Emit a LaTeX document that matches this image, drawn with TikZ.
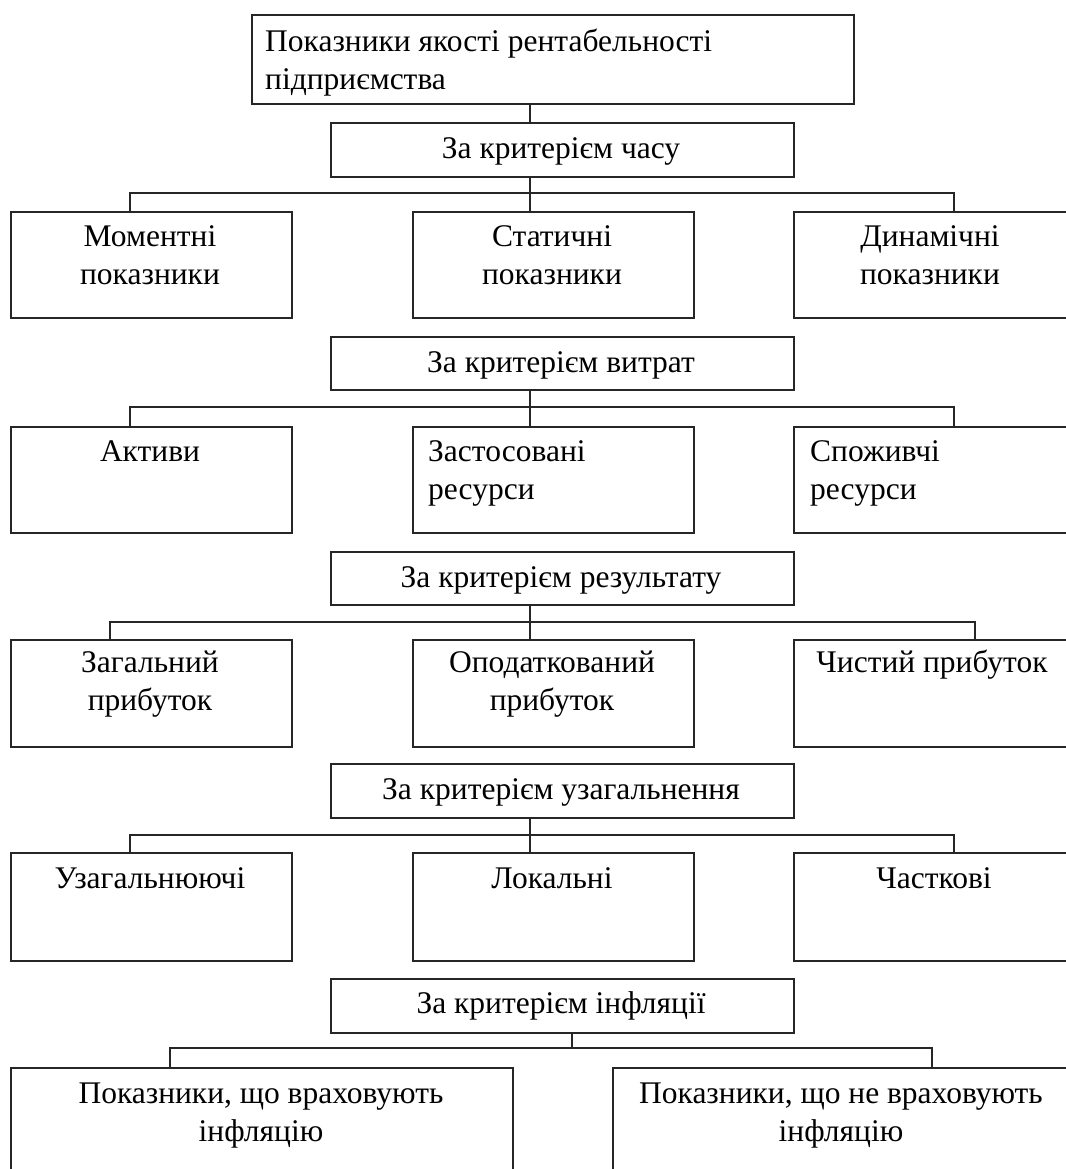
\documentclass[tikz,border=0pt]{standalone}
\usepackage{fontspec}
\setmainfont{Liberation Serif}
\begin{document}
\begin{tikzpicture}[x=1pt,y=-1pt,
  box/.style={draw=black!85, line width=1.6pt, anchor=north west, inner sep=0pt},
  lbl/.style={font=\fontsize{31.5}{38}\selectfont, inner sep=0pt, anchor=base, align=center},
  lbll/.style={font=\fontsize{31.5}{38}\selectfont, inner sep=0pt, anchor=base west, align=left},
  conn/.style={draw=black!85, line width=1.6pt}]
\useasboundingbox (0,0) rectangle (1065,1169);
\newcommand\bx[5]{\node[box, minimum width={#4pt-#2pt}, minimum height={#5pt-#3pt}] (#1) at (#2,#3) {};}
% boxes
\bx{top}{251}{14}{853}{103}
\bx{c1}{330}{122}{793}{176}
\bx{a1}{10}{211}{291}{317}
\bx{a2}{412}{211}{693}{317}
\bx{a3}{793}{211}{1075}{317}
\bx{c2}{330}{336}{793}{389}
\bx{b1}{10}{426}{291}{532}
\bx{b2}{412}{426}{693}{532}
\bx{b3}{793}{426}{1075}{532}
\bx{c3}{330}{551}{793}{604}
\bx{d1}{10}{639}{291}{746}
\bx{d2}{412}{639}{693}{746}
\bx{d3}{793}{639}{1075}{746}
\bx{c4}{330}{763}{793}{817}
\bx{e1}{10}{852}{291}{960}
\bx{e2}{412}{852}{693}{960}
\bx{e3}{793}{852}{1075}{960}
\bx{c5}{330}{978}{793}{1032}
\bx{f1}{10}{1067}{512}{1180}
\bx{f2}{612}{1067}{1075}{1180}
% junctions
\coordinate (j1) at (530,193); \coordinate (j1l) at (130,193); \coordinate (j1r) at (954,193);
\coordinate (j2) at (530,407); \coordinate (j2l) at (130,407); \coordinate (j2r) at (954,407);
\coordinate (j3) at (530,622); \coordinate (j3l) at (110,622); \coordinate (j3r) at (975,622);
\coordinate (j4) at (530,835); \coordinate (j4l) at (130,835); \coordinate (j4r) at (954,835);
\coordinate (j5) at (572,1048); \coordinate (j5l) at (170,1048); \coordinate (j5r) at (932,1048);
% connectors
\draw[conn] (top.south -| j1) -- (c1.north -| j1);
\draw[conn] (c1.south -| j1) -- (a2.north -| j1);
\draw[conn] (a1.north -| j1l) -- (j1l) -- (j1r) -- (a3.north -| j1r);
\draw[conn] (c2.south -| j2) -- (b2.north -| j2);
\draw[conn] (b1.north -| j2l) -- (j2l) -- (j2r) -- (b3.north -| j2r);
\draw[conn] (c3.south -| j3) -- (d2.north -| j3);
\draw[conn] (d1.north -| j3l) -- (j3l) -- (j3r) -- (d3.north -| j3r);
\draw[conn] (c4.south -| j4) -- (e2.north -| j4);
\draw[conn] (e1.north -| j4l) -- (j4l) -- (j4r) -- (e3.north -| j4r);
\draw[conn] (c5.south -| j5) -- (j5);
\draw[conn] (f1.north -| j5l) -- (j5l) -- (j5r) -- (f2.north -| j5r);
% labels (multi-line nodes: base = baseline of last line)
\node[lbll] (tt) at (265,90) {Показники якості рентабельності\\підприємства};
\node[lbl] (c1t) at (561,159) {За критерієм часу};
\node[lbl] (a1t) at (150,284) {Моментні\\показники};
\node[lbl] (a2t) at (552,284) {Статичні\\показники};
\node[lbl] (a3t) at (930,284) {Динамічні\\показники};
\node[lbl] (c2t) at (561,372) {За критерієм витрат};
\node[lbl] (b1t) at (150,461) {Активи};
\node[lbll] (b2t) at (428,499) {Застосовані\\ресурси};
\node[lbll] (b3t) at (810,499) {Споживчі\\ресурси};
\node[lbl] (c3t) at (561,587) {За критерієм результату};
\node[lbl] (d1t) at (150,710) {Загальний\\прибуток};
\node[lbl] (d2t) at (552,710) {Оподаткований\\прибуток};
\node[lbl] (d3t) at (932,672) {Чистий прибуток};
\node[lbl] (c4t) at (561,799) {За критерієм узагальнення};
\node[lbl] (e1t) at (150,888) {Узагальнюючі};
\node[lbl] (e2t) at (552,888) {Локальні};
\node[lbl] (e3t) at (934,888) {Часткові};
\node[lbl] (c5t) at (561,1013) {За критерієм інфляції};
\node[lbl] (f1t) at (261,1141) {Показники, що враховують\\інфляцію};
\node[lbl] (f2t) at (841,1141) {Показники, що не враховують\\інфляцію};
\end{tikzpicture}
\end{document}
